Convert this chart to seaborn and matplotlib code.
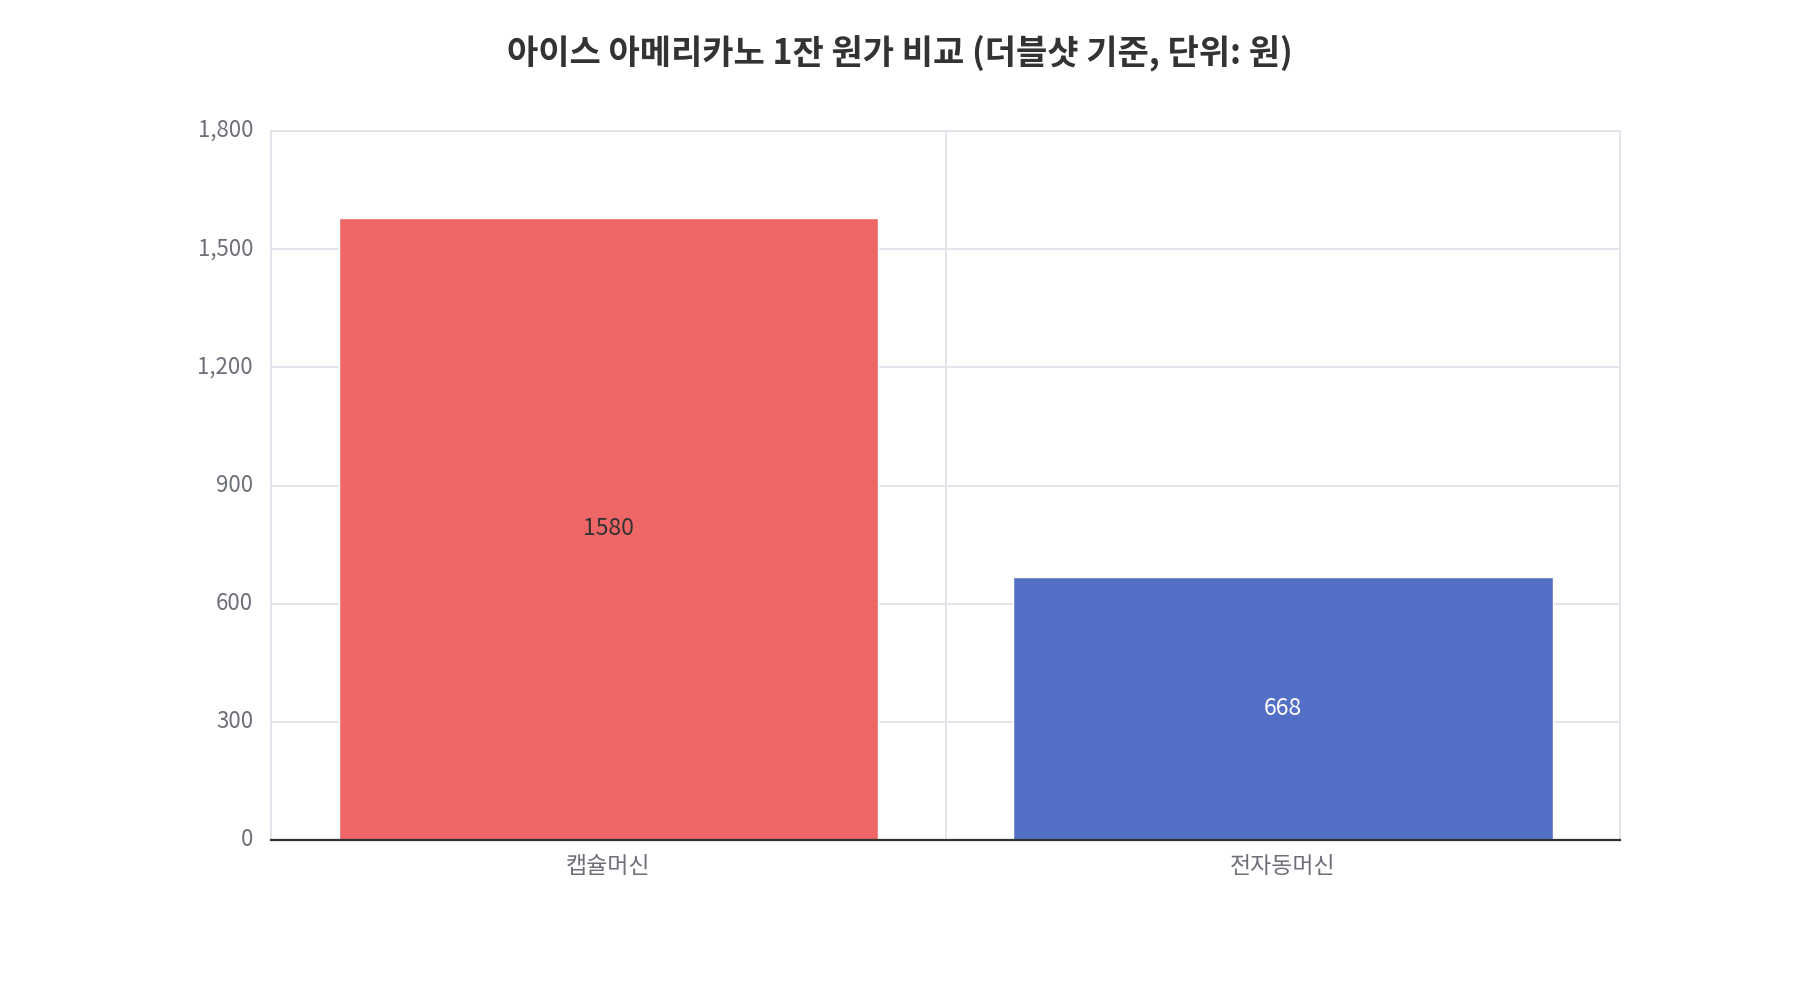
import matplotlib
matplotlib.use("Agg")
import matplotlib.pyplot as plt
import matplotlib.ticker as mticker
import matplotlib.transforms as mtransforms
import seaborn as sns
import pandas as pd

machines = ["캡슐머신", "전자동머신"]
costs = [1580, 668]
bar_colors = ["#EE6666", "#5470C6"]
label_colors = ["#333333", "#FFFFFF"]
title = "아이스 아메리카노 1잔 원가 비교 (더블샷 기준, 단위: 원)"

sns.set_theme(style="white")
plt.rcParams["font.family"] = ["Noto Sans CJK KR", "DejaVu Sans"]

df = pd.DataFrame({"machine": machines, "cost": costs})

fig = plt.figure(figsize=(18, 10), dpi=100)
ax = fig.add_axes([0.1506, 0.16, 0.7494, 0.709])

sns.barplot(data=df, x="machine", y="cost", hue="machine", palette=bar_colors,
            legend=False, width=0.8, saturation=1, ax=ax, zorder=3)

ax.set_ylim(0, 1800)
ax.set_xlim(-0.5, len(machines) - 0.5)
ax.yaxis.set_major_locator(mticker.MultipleLocator(300))
ax.yaxis.set_major_formatter(mticker.FuncFormatter(lambda v, p: f"{int(v):,}"))
ax.grid(axis="y", color="#E0E3EA", linewidth=1.3, zorder=0)

# category boundary lines
for xb in [0.5]:
    ax.axvline(xb, color="#E0E3EA", linewidth=1.3, zorder=0)

for side in ["left", "right", "top"]:
    ax.spines[side].set_color("#E0E3EA")
    ax.spines[side].set_linewidth(1.3)
ax.spines["bottom"].set_color("#333333")
ax.spines["bottom"].set_linewidth(1.6)
ax.spines["bottom"].set_zorder(5)

ax.tick_params(axis="y", length=0, labelsize=16, labelcolor="#6E7079", pad=13)
ax.tick_params(axis="x", length=0, labelsize=16.5, labelcolor="#6E7079", pad=11)
# nudge y tick labels up a few pixels
shift = mtransforms.ScaledTranslation(0, 3 / 100, fig.dpi_scale_trans)
for lbl in ax.get_yticklabels():
    lbl.set_transform(lbl.get_transform() + shift)
ax.set_xlabel("")
ax.set_ylabel("")

for patch, val, col in zip(ax.patches, costs, label_colors):
    ax.text(patch.get_x() + patch.get_width() / 2, val / 2, str(val),
            ha="center", va="center", fontsize=16.5, color=col, zorder=6)

fig.text(0.5, 0.947, title, ha="center", va="center", fontsize=24.5,
         fontweight="bold", color="#333333")

fig.savefig("out.png", dpi=100, facecolor="white")
